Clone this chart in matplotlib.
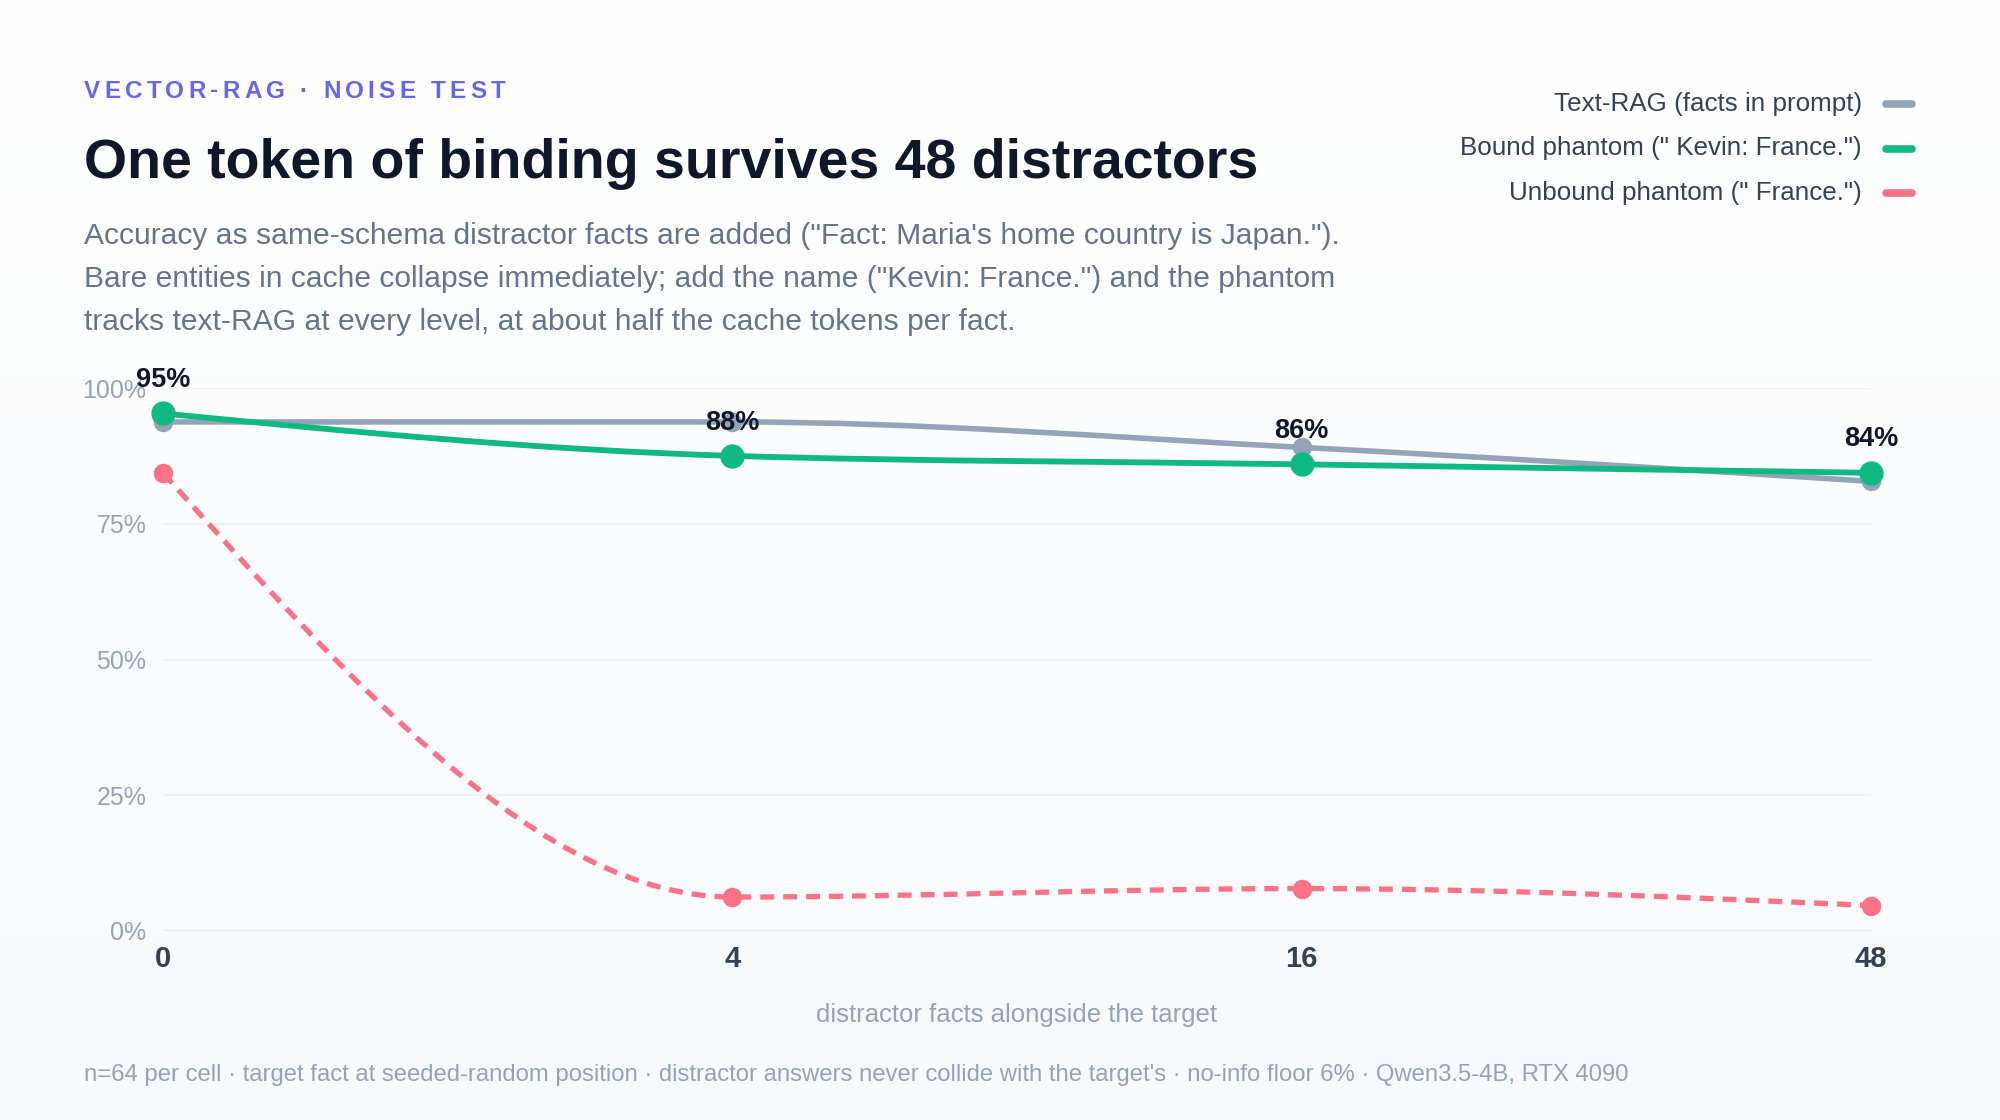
import numpy as np
import matplotlib
matplotlib.use("Agg")
import matplotlib.pyplot as plt
from matplotlib.path import Path
from matplotlib.patches import PathPatch
from matplotlib.lines import Line2D

plt.rcParams["font.family"] = ["Liberation Sans", "DejaVu Sans"]
plt.rcParams["lines.scale_dashes"] = False

# data (accuracy %, n=64 per cell)
distractors = ["0", "4", "16", "48"]
text_rag = [93.75, 93.75, 89.06, 82.81]
bound = [95.31, 87.5, 85.94, 84.38]
unbound = [84.38, 6.25, 7.81, 4.69]
y_ticks = [0, 25, 50, 75, 100]

series_names = ["Text-RAG (facts in prompt)",
                'Bound phantom (" Kevin: France.")',
                'Unbound phantom (" France.")']

GRAY = "#94a3b8"
GREEN = "#10b981"
ROSE = "#fb7185"
W, H = 2000, 1120


def monotone_path(xs, ys):
    """cubic bezier path like d3.curveMonotoneX"""
    xs = np.asarray(xs, float)
    ys = np.asarray(ys, float)
    n = len(xs)
    h = np.diff(xs)
    s = np.diff(ys) / h
    sgn = lambda v: -1.0 if v < 0 else 1.0
    t = np.zeros(n)
    for i in range(1, n - 1):
        p = (s[i - 1] * h[i] + s[i] * h[i - 1]) / (h[i - 1] + h[i])
        t[i] = (sgn(s[i - 1]) + sgn(s[i])) * min(abs(s[i - 1]), abs(s[i]), 0.5 * abs(p))
    t[0] = (3 * s[0] - t[1]) / 2
    t[-1] = (3 * s[-1] - t[-2]) / 2
    verts = [(xs[0], ys[0])]
    codes = [Path.MOVETO]
    for i in range(n - 1):
        d = h[i] / 3
        verts += [(xs[i] + d, ys[i] + d * t[i]),
                  (xs[i + 1] - d, ys[i + 1] - d * t[i + 1]),
                  (xs[i + 1], ys[i + 1])]
        codes += [Path.CURVE4] * 3
    return Path(verts, codes)


fig = plt.figure(figsize=(W / 100, H / 100), dpi=100)

# soft vertical background gradient
bg = fig.add_axes([0, 0, 1, 1], zorder=-10)
grad = np.linspace(0, 1, 256).reshape(-1, 1)
bg.imshow(grad, aspect="auto", extent=[0, 1, 0, 1], origin="upper",
          cmap=matplotlib.colors.LinearSegmentedColormap.from_list("bg", ["#ffffff", "#f7f9fc"]))
bg.set_axis_off()

ax = fig.add_axes([163 / W, 1 - 931 / H, (1871 - 163) / W, (931 - 388) / H])
ax.set_facecolor("none")
xs = np.arange(len(distractors))
ax.set_xlim(0, len(distractors) - 1)
ax.set_ylim(0, 100)

for sp in ax.spines.values():
    sp.set_visible(False)
for v in y_ticks:
    ax.axhline(v, color="#e2e8f0" if v == 0 else "#eef1f5", lw=1.6, zorder=0)

ax.set_yticks(y_ticks)
ax.set_yticklabels([f"{v}%" for v in y_ticks], color=GRAY, fontsize=18)
ax.set_xticks(xs)
ax.set_xticklabels(distractors, color="#334155", fontsize=21, fontweight="bold")
ax.tick_params(axis="both", length=0)
ax.tick_params(axis="y", pad=12)
ax.tick_params(axis="x", pad=10)
ax.set_xlabel("distractor facts alongside the target", color=GRAY, fontsize=18.5, labelpad=22)

# series
ax.add_patch(PathPatch(monotone_path(xs, text_rag), fill=False, ec=GRAY, lw=4,
                       capstyle="round", joinstyle="round", clip_on=False, zorder=2))
ax.plot(xs, text_rag, "o", color=GRAY, ms=13, clip_on=False, zorder=3)

ax.add_patch(PathPatch(monotone_path(xs, bound), fill=False, ec=GREEN, lw=4.2,
                       capstyle="round", joinstyle="round", clip_on=False, zorder=4))
ax.plot(xs, bound, "o", color=GREEN, ms=16.5, clip_on=False, zorder=5)

ax.add_patch(PathPatch(monotone_path(xs, unbound), fill=False, ec=ROSE, lw=3.8,
                       linestyle=(0, (10, 6.5)), capstyle="butt", clip_on=False, zorder=4))
ax.plot(xs, unbound, "o", color=ROSE, ms=13, clip_on=False, zorder=5)

for x, v in zip(xs, bound):
    ax.annotate(f"{v:.0f}%", (x, v), xytext=(0, 24), textcoords="offset points",
                ha="center", va="center", fontsize=19.5, fontweight="bold",
                color="#0f172a", zorder=6)

# header
renderer = fig.canvas.get_renderer()
ex = 84 / W
for ch in "VECTOR-RAG · NOISE TEST":
    t = fig.text(ex, 1 - 91 / H, ch, color="#6366f1", fontsize=17.5, fontweight="bold", va="center")
    ex += (t.get_window_extent(renderer).width + 4.2) / W

fig.text(84 / W, 1 - 164 / H, "One token of binding survives 48 distractors",
         color="#0f172a", fontsize=40, fontweight="bold", va="center")

subtitle = ['Accuracy as same-schema distractor facts are added ("Fact: Maria\'s home country is Japan.").',
            'Bare entities in cache collapse immediately; add the name ("Kevin: France.") and the phantom',
            'tracks text-RAG at every level, at about half the cache tokens per fact.']
for i, line in enumerate(subtitle):
    fig.text(84 / W, 1 - (236 + 43 * i) / H, line, color="#64748b", fontsize=21.6, va="center")

# legend
for i, (name, col) in enumerate(zip(series_names, [GRAY, GREEN, ROSE])):
    yy = 1 - (104 + 44.5 * i) / H
    fig.text(1862 / W, yy, name, color="#334155", fontsize=18.7, ha="right", va="center")
    fig.add_artist(Line2D([1886 / W, 1912 / W], [yy, yy], color=col, lw=5.5,
                          solid_capstyle="round", transform=fig.transFigure))

fig.text(84 / W, 1 - 1075 / H,
         "n=64 per cell \u00b7 target fact at seeded-random position \u00b7 distractor answers never "
         "collide with the target's \u00b7 no-info floor 6% \u00b7 Qwen3.5-4B, RTX 4090",
         color=GRAY, fontsize=17.2, va="center")

fig.savefig("out.png", dpi=100)
